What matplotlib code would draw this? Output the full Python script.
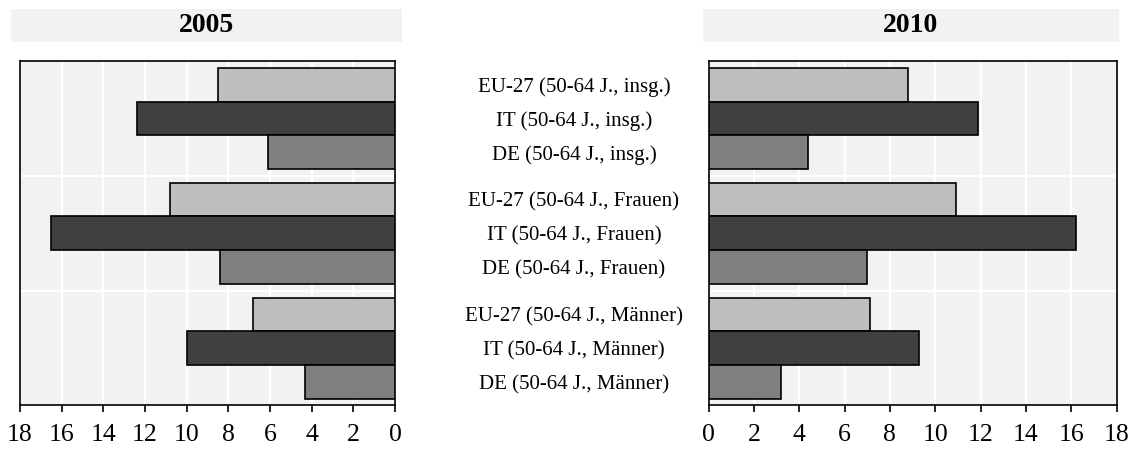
import numpy as np
import matplotlib
matplotlib.use("Agg")
import matplotlib.pyplot as plt
import matplotlib.transforms as mtrans

plt.rcParams['font.family'] = ['Liberation Serif', 'DejaVu Serif']

# labels, top to bottom
labels = ["EU-27 (50-64 J., insg.)", "IT (50-64 J., insg.)", "DE (50-64 J., insg.)",
          "EU-27 (50-64 J., Frauen)", "IT (50-64 J., Frauen)", "DE (50-64 J., Frauen)",
          "EU-27 (50-64 J., Männer)", "IT (50-64 J., Männer)", "DE (50-64 J., Männer)"]
vals_2005 = [8.5, 12.4, 6.1, 10.8, 16.5, 8.4, 6.8, 10.0, 4.3]
vals_2010 = [8.8, 11.9, 4.4, 10.9, 16.2, 7.0, 7.1, 9.3, 3.2]
years = ["2005", "2010"]
ticks = np.arange(0, 19, 2)

bar_cols = ["#BEBEBE", "#404040", "#7F7F7F"] * 3

# bar positions: 3 groups of 3, small gap between groups
pitch = 3.4
ypos = np.array([g * pitch + i + 0.5 for g in range(3) for i in range(3)])
gaps = [3.2, 6.6]

fig = plt.figure(figsize=(11.37, 4.51), dpi=100)
W, H = 1137, 451

def fbox(x0, y0, x1, y1):
    return [x0 / W, 1 - y1 / H, (x1 - x0) / W, (y1 - y0) / H]

ax_l = fig.add_axes(fbox(20, 61, 395, 405))
ax_r = fig.add_axes(fbox(708.5, 61, 1116.7, 405))

for ax, vals in [(ax_l, vals_2005), (ax_r, vals_2010)]:
    ax.set_facecolor("#F2F2F2")
    ax.barh(ypos, vals, height=1.0, color=bar_cols, edgecolor="black", linewidth=1.2, zorder=3)
    ax.set_xlim(0, 18)
    ax.set_ylim(9.98, -0.2)
    ax.set_xticks(ticks)
    ax.set_yticks([])
    for t in ticks:
        ax.axvline(t, color="white", lw=1.6, zorder=1)
    for g in gaps:
        ax.axhline(g, color="white", lw=1.6, zorder=1)
    for s in ax.spines.values():
        s.set_linewidth(1.2)
        s.set_color("black")
    ax.tick_params(axis="x", length=5, width=1.2, labelsize=18.5, pad=9)

ax_l.invert_xaxis()

# category labels between the panels
tr = mtrans.blended_transform_factory(fig.transFigure, ax_l.transData)
for y, lab in zip(ypos, labels):
    fig.text(574 / W, y, lab, transform=tr, ha="center", va="center_baseline", fontsize=15)

# year strips
for (x0, x1), yr in zip([(11, 402), (703, 1119)], years):
    sax = fig.add_axes(fbox(x0, 9, x1, 41.5))
    sax.set_facecolor("#F2F2F2")
    sax.set_xticks([])
    sax.set_yticks([])
    for s in sax.spines.values():
        s.set_visible(False)
    sax.text(0.5, 0.5, yr, ha="center", va="center", fontsize=20, fontweight="bold",
             transform=sax.transAxes)

fig.savefig("out.png", dpi=100)
